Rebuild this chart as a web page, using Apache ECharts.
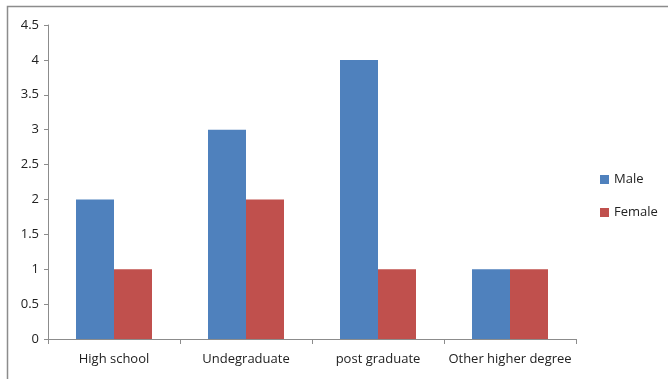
<!DOCTYPE html>
<html>
<head>
<meta charset="utf-8">
<script src="https://cdn.jsdelivr.net/npm/echarts@6/dist/echarts.min.js"></script>
<style>
  html, body { margin: 0; padding: 0; background: #fff; }
  #chart { width: 668px; height: 379px; }
</style>
</head>
<body>
<div id="chart"></div>
<script>
// Education level by gender
const categories = ['High school', 'Undegraduate', 'post graduate', 'Other higher degree'];
const maleValues = [2, 3, 4, 1];
const femaleValues = [1, 2, 1, 1];
const yTicks = [0, 0.5, 1, 1.5, 2, 2.5, 3, 3.5, 4, 4.5];

const font = 'Open Sans, Liberation Sans, sans-serif';
const chart = echarts.init(document.getElementById('chart'), null, { renderer: 'canvas' });

chart.setOption({
  animation: false,
  backgroundColor: '#fff',
  graphic: [{
    type: 'rect',
    shape: { x: 7.5, y: 6.5, width: 700, height: 400 },
    style: { fill: 'none', stroke: '#8c8c8c', lineWidth: 1.5 },
    silent: true
  }],
  grid: { left: 48, top: 25, right: 92, bottom: 40 },
  legend: {
    orient: 'vertical',
    left: 595,
    top: 168,
    itemWidth: 9,
    itemHeight: 9,
    itemGap: 20,
    icon: 'rect',
    textStyle: { fontFamily: font, fontSize: 13, color: '#222' },
    data: ['Male', 'Female']
  },
  xAxis: {
    type: 'category',
    data: categories,
    axisLine: { lineStyle: { color: '#8c8c8c' } },
    axisTick: { show: true, length: 5, inside: false, lineStyle: { color: '#8c8c8c' } },
    axisLabel: { interval: 0, margin: 14, fontFamily: font, fontSize: 13, color: '#222' }
  },
  yAxis: {
    type: 'value',
    min: yTicks[0],
    max: yTicks[yTicks.length - 1],
    interval: 0.5,
    axisLine: { show: true, lineStyle: { color: '#8c8c8c' } },
    axisTick: { show: true, length: 4, lineStyle: { color: '#8c8c8c' } },
    splitLine: { show: false },
    axisLabel: { margin: 9, fontFamily: font, fontSize: 13, color: '#222' }
  },
  series: [
    {
      name: 'Male',
      type: 'bar',
      data: maleValues,
      barWidth: 38,
      barGap: '0%',
      itemStyle: { color: '#4F81BD' }
    },
    {
      name: 'Female',
      type: 'bar',
      data: femaleValues,
      barWidth: 38,
      itemStyle: { color: '#C0504D' }
    }
  ]
});
</script>
</body>
</html>
